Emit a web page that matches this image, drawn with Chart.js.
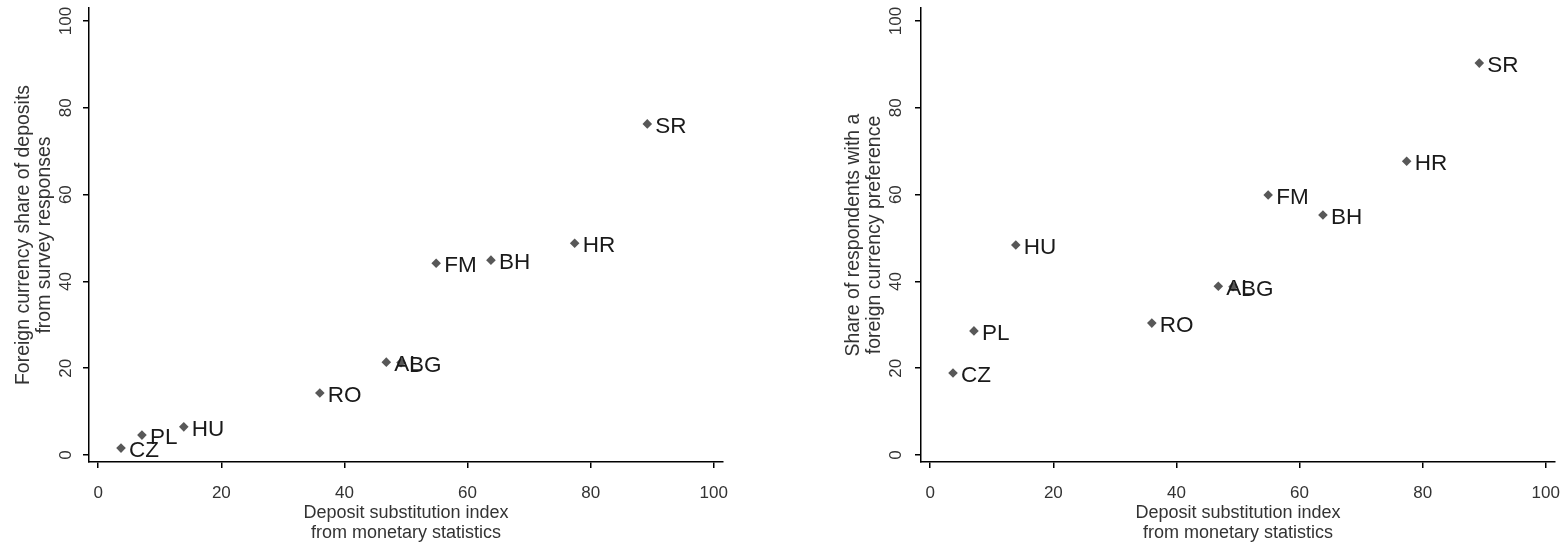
<!DOCTYPE html>
<html>
<head>
<meta charset="utf-8">
<script src="https://cdn.jsdelivr.net/npm/chart.js@4"></script>
<style>
  html, body { margin: 0; padding: 0; background: #fff; overflow: hidden; }
  canvas { position: absolute; top: 0; }
</style>
</head>
<body>
<canvas id="leftChart" width="782" height="547" style="left:0"></canvas>
<canvas id="rightChart" width="783" height="547" style="left:782px"></canvas>
<script>
// country codes and values
const countries = ['CZ', 'PL', 'HU', 'RO', 'AL', 'BG', 'FM', 'BH', 'HR', 'SR'];
const depositIndex = [3.7, 7.1, 13.9, 36.0, 46.8, 49.2, 54.9, 63.8, 77.4, 89.2];
const surveyShare = [1.6, 4.6, 6.5, 14.3, 21.4, 21.3, 44.2, 44.9, 48.8, 76.3];
const preferenceShare = [18.9, 28.6, 48.4, 30.4, 38.9, 38.8, 59.9, 55.3, 67.7, 90.3];
const xTicks = [0, 20, 40, 60, 80, 100];
const yTicks = [0, 20, 40, 60, 80, 100];

const FONT = '"Liberation Sans", Arial, sans-serif';

// country code next to each marker
const pointLabels = {
    id: 'pointLabels',
    afterDatasetsDraw(chart) {
        const ctx = chart.ctx;
        const meta = chart.getDatasetMeta(0);
        ctx.save();
        ctx.font = '22.5px ' + FONT;
        ctx.fillStyle = '#1a1a1a';
        ctx.textAlign = 'left';
        ctx.textBaseline = 'middle';
        meta.data.forEach((pt, i) => {
            ctx.fillText(countries[i], pt.x + 8, pt.y + 3);
        });
        ctx.restore();
    }
};

// vertical y tick labels, like the original
const rotatedYTicks = {
    id: 'rotatedYTicks',
    afterDraw(chart) {
        const ctx = chart.ctx;
        const scale = chart.scales.y;
        const off = chart.options.plugins.rotatedYTicks.offset;
        ctx.save();
        ctx.font = '17px ' + FONT;
        ctx.fillStyle = '#333';
        ctx.textAlign = 'center';
        ctx.textBaseline = 'middle';
        scale.ticks.forEach(t => {
            ctx.save();
            ctx.translate(scale.right - off, scale.getPixelForValue(t.value));
            ctx.rotate(-Math.PI / 2);
            ctx.fillText(String(t.value), 0, 0);
            ctx.restore();
        });
        ctx.restore();
    }
};

function makeChart(id, yValues, yTitle, pad) {
    const ctx = document.getElementById(id).getContext('2d');
    return new Chart(ctx, {
        type: 'scatter',
        data: {
            datasets: [{
                data: depositIndex.map((x, i) => ({ x: x, y: yValues[i] })),
                pointStyle: 'rectRot',
                pointRadius: 4.8,
                pointBackgroundColor: '#585858',
                pointBorderColor: '#585858',
                pointBorderWidth: 0,
            }]
        },
        options: {
            responsive: false,
            animation: false,
            layout: { padding: { left: pad.left, right: pad.right, top: 8, bottom: 0 } },
            plugins: {
                legend: { display: false },
                tooltip: { enabled: false },
                rotatedYTicks: { offset: pad.tickOffset }
            },
            scales: {
                x: {
                    type: 'linear',
                    min: -1.5,
                    max: 101.5,
                    afterBuildTicks: s => { s.ticks = xTicks.map(v => ({ value: v })); },
                    afterFit: s => {
                        s.height = 85;
                        s.paddingLeft = 0;
                        s.paddingRight = 0;
                    },
                    border: { display: true, color: '#000', width: 1.5 },
                    grid: { drawOnChartArea: false, drawTicks: true, tickLength: 6, color: '#000', lineWidth: 1.5 },
                    ticks: { font: { family: FONT, size: 17 }, color: '#333', padding: 15, maxRotation: 0 },
                    title: {
                        display: true,
                        text: ['Deposit substitution index', 'from monetary statistics'],
                        font: { family: FONT, size: 18, lineHeight: 1.1 },
                        color: '#333',
                        padding: { top: 0, bottom: 4 }
                    }
                },
                y: {
                    type: 'linear',
                    min: -1.6,
                    max: 103,
                    afterBuildTicks: s => { s.ticks = yTicks.map(v => ({ value: v })); },
                    afterFit: s => { s.width = pad.yWidth; },
                    border: { display: true, color: '#000', width: 1.5 },
                    grid: { drawOnChartArea: false, drawTicks: true, tickLength: 6, color: '#000', lineWidth: 1.5 },
                    ticks: { display: false },
                    title: {
                        display: true,
                        text: yTitle,
                        font: { family: FONT, size: 19.5, lineHeight: 1.03 },
                        color: '#333',
                        padding: 0
                    }
                }
            }
        },
        plugins: [pointLabels, rotatedYTicks]
    });
}

makeChart('leftChart', surveyShare,
    ['Foreign currency share of deposits', 'from survey responses'],
    { left: 14, right: 59, yWidth: 75, tickOffset: 22.5 });
makeChart('rightChart', preferenceShare,
    ['Share of respondents with a', 'foreign currency preference'],
    { left: 62, right: 10, yWidth: 77, tickOffset: 25 });
</script>
</body>
</html>
